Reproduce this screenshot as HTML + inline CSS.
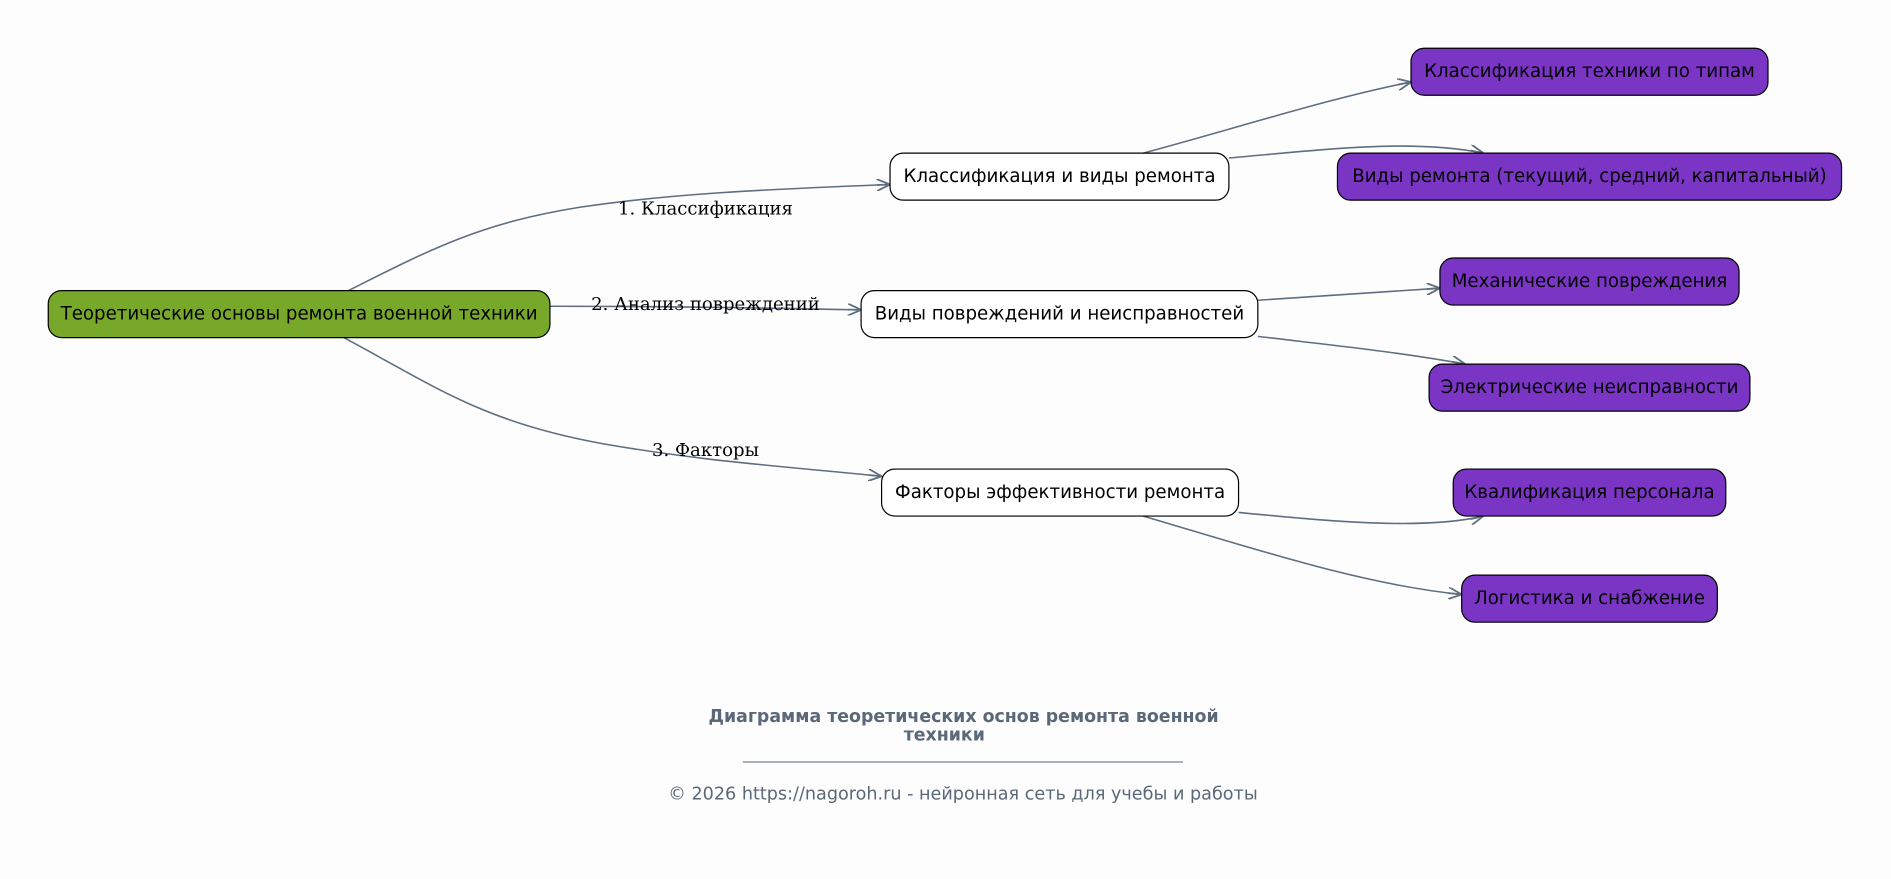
<!DOCTYPE html>
<html><head><meta charset="utf-8"><style>
html,body{margin:0;padding:0;background:#fdfdfe;}
svg{display:block}
.n{font-family:"DejaVu Sans","Liberation Sans",sans-serif;font-size:15.1px;fill:#000;text-anchor:middle;dominant-baseline:central}
.e{font-family:"DejaVu Serif","Liberation Serif",serif;font-size:15px;fill:#000;text-anchor:middle}
.p{fill:none;stroke:#5f6e7e;stroke-width:1.3}
</style></head><body>
<svg width="1891" height="879" viewBox="0 0 1568 729" preserveAspectRatio="none" xmlns="http://www.w3.org/2000/svg">
<defs><marker id="a" markerWidth="12" markerHeight="10" refX="11" refY="5" orient="auto" markerUnits="userSpaceOnUse"><path d="M0,0 L11,5 L0,10 M11,5 L0,5" fill="none" stroke="#5f6e7e" stroke-width="1.5"/></marker></defs>
<rect width="1568" height="729" fill="#fdfdfe"/>
<path class="p" d="M289,241 C360,205 400,185 480,172 C560,160 640,157 738,153" marker-end="url(#a)"/>
<path class="p" d="M456,254 C540,254 620,255 714,257" marker-end="url(#a)"/>
<path class="p" d="M285,280 C360,320 400,350 500,368 C580,382 640,386 731,395" marker-end="url(#a)"/>
<path class="p" d="M948,127 C1030,105 1100,82 1170,68" marker-end="url(#a)"/>
<path class="p" d="M1019,131 C1100,124 1170,115 1230,127" marker-end="url(#a)"/>
<path class="p" d="M1043,249 C1100,245 1150,242 1194,239" marker-end="url(#a)"/>
<path class="p" d="M1043,279 C1110,287 1160,292 1215,302" marker-end="url(#a)"/>
<path class="p" d="M1027,425 C1100,432 1180,440 1230,428" marker-end="url(#a)"/>
<path class="p" d="M948,428 C1040,455 1130,485 1212,493" marker-end="url(#a)"/>
<text class="e" x="585" y="178">1. Классификация</text>
<text class="e" x="585" y="257">2. Анализ повреждений</text>
<text class="e" x="585" y="378">3. Факторы</text>
<rect x="40" y="241" width="416" height="39" rx="11" fill="#77a82a" stroke="#000"/>
<text class="n" x="248" y="260.5">Теоретические основы ремонта военной техники</text>
<g fill="#fff" stroke="#000">
<rect x="738" y="127" width="281" height="39" rx="11"/>
<rect x="714" y="241" width="329" height="39" rx="11"/>
<rect x="731" y="389" width="296" height="39" rx="11"/>
</g>
<text class="n" x="878.5" y="146.5">Классификация и виды ремонта</text>
<text class="n" x="878.5" y="260.5">Виды повреждений и неисправностей</text>
<text class="n" x="879" y="408.5">Факторы эффективности ремонта</text>
<g fill="#7a35c4" stroke="#000">
<rect x="1170" y="40" width="296" height="39" rx="11"/>
<rect x="1109" y="127" width="418" height="39" rx="11"/>
<rect x="1194" y="214" width="248" height="39" rx="11"/>
<rect x="1185" y="302" width="266" height="39" rx="11"/>
<rect x="1205" y="389" width="226" height="39" rx="11"/>
<rect x="1212" y="477" width="212" height="39" rx="11"/>
</g>
<text class="n" x="1318" y="59.5">Классификация техники по типам</text>
<text class="n" x="1318" y="146.5">Виды ремонта (текущий, средний, капитальный)</text>
<text class="n" x="1318" y="233.5">Механические повреждения</text>
<text class="n" x="1318" y="321.5">Электрические неисправности</text>
<text class="n" x="1318" y="408.5">Квалификация персонала</text>
<text class="n" x="1318" y="496.5">Логистика и снабжение</text>
<g font-family="DejaVu Sans,Liberation Sans,sans-serif" fill="#5a6878" text-anchor="middle">
<text x="799" y="599" font-size="14.4" font-weight="bold">Диаграмма теоретических основ ремонта военной</text>
<text x="783" y="614" font-size="14.4" font-weight="bold">техники</text>
<text x="798.5" y="663" font-size="14.6">© 2026 https://nagoroh.ru - нейронная сеть для учебы и работы</text>
</g>
<line x1="616" y1="632" x2="981" y2="632" stroke="#5a6878" stroke-width="0.8"/>
</svg>
</body></html>
